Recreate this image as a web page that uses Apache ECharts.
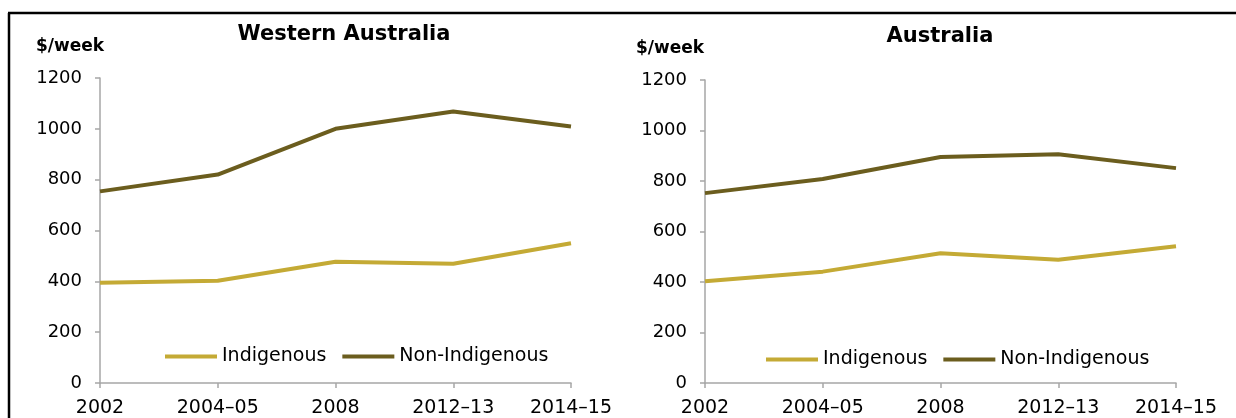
<!DOCTYPE html>
<html>
<head>
<meta charset="utf-8">
<script src="https://cdn.jsdelivr.net/npm/echarts@6/dist/echarts.min.js"></script>
<style>
html,body{margin:0;padding:0;background:#fff;overflow:hidden;}
#c{width:1236px;height:418px;}
</style>
</head>
<body>
<div id="c"></div>
<script>
const categories = ['2002', '2004–05', '2008', '2012–13', '2014–15'];
const waIndigenous = [394, 402, 477, 469, 550];
const waNonIndigenous = [754, 820, 1000, 1068, 1009];
const ausIndigenous = [403, 441, 514, 488, 542];
const ausNonIndigenous = [752, 808, 895, 906, 851];
const yTicks = { min: 0, max: 1200, interval: 200 };
const panelTitles = ['Western Australia', 'Australia'];
const unitLabel = '$/week';
const seriesNames = ['Indigenous', 'Non-Indigenous'];

const C_IND = '#C4AA35';
const C_NON = '#6B5D1E';
const AXIS = '#A6A6A6';
const FONT = 'DejaVu Sans';

const chart = echarts.init(document.getElementById('c'), null, {renderer: 'canvas'});

function xAxis(gi) {
  return {
    type: 'category', gridIndex: gi, data: categories, boundaryGap: false,
    axisLine: {lineStyle: {color: AXIS, width: 1.5}},
    axisTick: {show: true, length: 5, lineStyle: {color: AXIS, width: 1.5}},
    axisLabel: {color: '#000', fontFamily: FONT, fontSize: 19, margin: 16, interval: 0},
    splitLine: {show: false}
  };
}
function yAxis(gi) {
  return {
    type: 'value', gridIndex: gi, min: yTicks.min, max: yTicks.max, interval: yTicks.interval,
    axisLine: {show: true, lineStyle: {color: AXIS, width: 1.5}},
    axisTick: {show: true, length: 5, lineStyle: {color: AXIS, width: 1.5}},
    axisLabel: {color: '#000', fontFamily: FONT, fontSize: 18, margin: 18,
                formatter: function (v) { return String(v); }},
    splitLine: {show: false}
  };
}
function line(name, data, gi, color) {
  return {
    type: 'line', name: name, xAxisIndex: gi, yAxisIndex: gi, data: data,
    symbol: 'none', smooth: false,
    lineStyle: {color: color, width: 4},
    itemStyle: {color: color},
    emphasis: {disabled: true}
  };
}
function legend(left, top) {
  return {
    left: left, top: top, data: seriesNames, icon: 'rect',
    itemWidth: 52, itemHeight: 4, itemGap: 16, padding: 0,
    textStyle: {color: '#000', fontFamily: FONT, fontSize: 19, padding: [0, 0, 0, 0]},
    selectedMode: false
  };
}

const option = {
  backgroundColor: '#fff',
  animation: false,
  grid: [
    {left: 100, top: 78, width: 471, height: 305},
    {left: 705, top: 80, width: 471, height: 304}
  ],
  xAxis: [xAxis(0), xAxis(1)],
  yAxis: [yAxis(0), yAxis(1)],
  legend: [legend(165, 347), legend(766, 350)],
  series: [
    line(seriesNames[0], waIndigenous, 0, C_IND),
    line(seriesNames[1], waNonIndigenous, 0, C_NON),
    line(seriesNames[0], ausIndigenous, 1, C_IND),
    line(seriesNames[1], ausNonIndigenous, 1, C_NON)
  ],
  graphic: [
    {type: 'line', silent: true, shape: {x1: 9, y1: 13, x2: 9, y2: 430},
     style: {stroke: '#000', lineWidth: 2.5}},
    {type: 'line', silent: true, shape: {x1: 8, y1: 13, x2: 1236, y2: 13},
     style: {stroke: '#000', lineWidth: 2.5}},
    {type: 'text', silent: true, style: {text: panelTitles[0], x: 344, y: 35, textAlign: 'center', textVerticalAlign: 'middle', fill: '#000', font: 'bold 21px "DejaVu Sans"'}},
    {type: 'text', silent: true, style: {text: panelTitles[1], x: 940, y: 37, textAlign: 'center', textVerticalAlign: 'middle', fill: '#000', font: 'bold 21px "DejaVu Sans"'}},
    {type: 'text', silent: true, style: {text: unitLabel, x: 36, y: 47, textAlign: 'left', textVerticalAlign: 'middle', fill: '#000', font: 'bold 17px "DejaVu Sans"'}},
    {type: 'text', silent: true, style: {text: unitLabel, x: 636, y: 49, textAlign: 'left', textVerticalAlign: 'middle', fill: '#000', font: 'bold 17px "DejaVu Sans"'}}
  ]
};
chart.setOption(option);
</script>
</body>
</html>
